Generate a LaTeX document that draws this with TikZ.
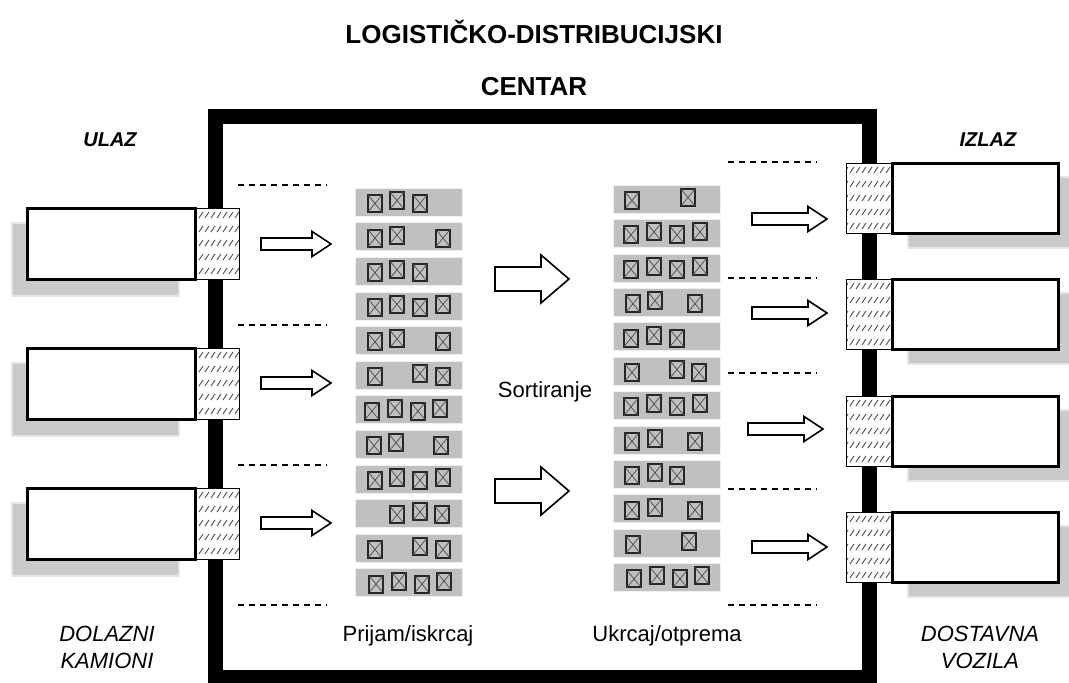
\documentclass[tikz,border=0pt]{standalone}
\usepackage{fontspec}
\setmainfont{Liberation Sans}
\usetikzlibrary{positioning}
\definecolor{stripgray}{RGB}{192,192,192}
\definecolor{shadowgray}{RGB}{202,202,202}

\begin{document}
\begin{tikzpicture}[x=1pt, y=-1pt,
  heading/.style={font=\fontsize{26}{30}\selectfont\bfseries},
  tag/.style={font=\fontsize{20}{24}\selectfont\bfseries\itshape},
  caption/.style={font=\fontsize{22}{27}\selectfont\itshape, align=center},
  label/.style={font=\fontsize{22}{26}\selectfont},
  truck/.style={draw, line width=3pt, fill=white},
  shade/.style={fill=shadowgray, draw=gray!20, line width=1.2pt},
  dock/.style={draw, line width=1pt, fill=white},
  hatch/.style={draw=black!70, line width=0.9pt},
  guide/.style={dash pattern=on 6pt off 5pt, line width=1.5pt},
  strip/.style={fill=stripgray, draw=gray!12, line width=0.6pt},
  crate/.style={draw=black!85, line width=2pt},
  blockarrow/.style={draw, line width=1.6pt, fill=white, line join=miter}]
\useasboundingbox (0,0) rectangle (1069,683);

% Hall walls
\draw[line width=15pt] (215.5,116) rectangle (869.5,677.5);

% Incoming trucks
\foreach \y in {208,348,488} {
  \draw[shade] (12,\y+15) rectangle (179,\y+88);
  \draw[dock] (195,\y) rectangle (239,\y+71);
  \begin{scope}
    \clip (195,\y) rectangle (239,\y+71);
    \foreach \r in {0,...,4}
      \foreach \s in {0,...,7}
        \draw[hatch] (193+\s*6,\y+10+\r*14) -- ++(4,-6);
  \end{scope}
  \draw[dock, fill=none] (195,\y) rectangle (239,\y+71);
  \draw[truck] (27,\y) rectangle (195,\y+71);
}

% Outgoing vehicles
\foreach \y in {163,279,396,512} {
  \draw[shade] (908,\y+14) rectangle (1075,\y+85);
  \draw[dock] (846,\y) rectangle (892,\y+70);
  \begin{scope}
    \clip (846,\y) rectangle (892,\y+70);
    \foreach \r in {0,...,4}
      \foreach \s in {0,...,8}
        \draw[hatch] (844+\s*6,\y+10+\r*14) -- ++(4,-6);
  \end{scope}
  \draw[dock, fill=none] (846,\y) rectangle (892,\y+70);
  \draw[truck] (892,\y) rectangle (1058,\y+70);
}

% Bay separators
\foreach \y in {185,325,465,605}
  \draw[guide] (238,\y) -- (327,\y);
\foreach \y in {162,278,373,489,605}
  \draw[guide] (728,\y) -- (817,\y);

% Receiving lanes
\foreach \r/\xs in {0/{375,397,420}, 1/{375,397,443}, 2/{375,397,420},
    3/{375,397,420,443}, 4/{375,397,443}, 5/{375,420,443},
    6/{372,395,418,440}, 7/{374,396,441}, 8/{375,397,420,443},
    9/{397,420,442}, 10/{375,420,443}, 11/{376,399,422,444}} {
  \draw[strip] (355,188+\r*34.6) rectangle (462,216+\r*34.6);
  \foreach \x [count=\k] in \xs {
    \pgfmathsetmacro\yc{202+\r*34.6+1.5*(2*mod(\k,2)-1)}
    \draw[crate] (\x-7,\yc-8.5) rectangle (\x+7,\yc+8.5);
    \draw[black!70, line width=0.7pt] (\x-7,\yc-8.5) -- (\x+7,\yc+8.5)
      (\x+7,\yc-8.5) -- (\x-7,\yc+8.5);
  }
}

% Shipping lanes
\foreach \r/\xs in {0/{632,688}, 1/{631,654,677,700}, 2/{631,654,677,700},
    3/{633,655,695}, 4/{631,654,677}, 5/{632,677,699},
    6/{631,654,677,700}, 7/{632,655,695}, 8/{632,655,677},
    9/{632,655,695}, 10/{633,689}, 11/{634,657,680,702}} {
  \draw[strip] (613,185+\r*34.4) rectangle (720,213+\r*34.4);
  \foreach \x [count=\k] in \xs {
    \pgfmathsetmacro\yc{199+\r*34.4+1.5*(2*mod(\k,2)-1)}
    \draw[crate] (\x-7,\yc-8.5) rectangle (\x+7,\yc+8.5);
    \draw[black!70, line width=0.7pt] (\x-7,\yc-8.5) -- (\x+7,\yc+8.5)
      (\x+7,\yc-8.5) -- (\x-7,\yc+8.5);
  }
}

% Flow arrows
\foreach \x/\y/\len in {261/244/70, 261/383/70, 261/523/70,
    752/219/75, 752/313/75, 748/429/75, 752/547/75}
  \draw[blockarrow] (\x,\y-6) -- ++(\len-19,0) -- ++(0,-6.5) -- ++(19,12.5)
    -- ++(-19,12.5) -- ++(0,-6.5) -- ++(-\len+19,0) -- cycle;
\foreach \y in {279,491}
  \draw[blockarrow] (495,\y-12) -- (541,\y-12) -- (541,\y-24) -- (569,\y)
    -- (541,\y+24) -- (541,\y+12) -- (495,\y+12) -- cycle;

% Texts
\node[heading] (hall) at (534,32) {LOGISTIČKO-DISTRIBUCIJSKI};
\node[heading] (hallb) at (534,87) {CENTAR};
\node[tag] (ulaz) at (110,140) {ULAZ};
\node[tag] (izlaz) at (988,140) {IZLAZ};
\node[label] (sort) at (545,392) {Sortiranje};
\node[label] (prijam) at (408,636) {Prijam/iskrcaj};
\node[label] (ukrcaj) at (667,636) {Ukrcaj/otprema};
\node[caption] (dolazni) at (107,647) {DOLAZNI\\KAMIONI};
\node[caption] (dostavna) at (980,647) {DOSTAVNA\\VOZILA};
\end{tikzpicture}
\end{document}
